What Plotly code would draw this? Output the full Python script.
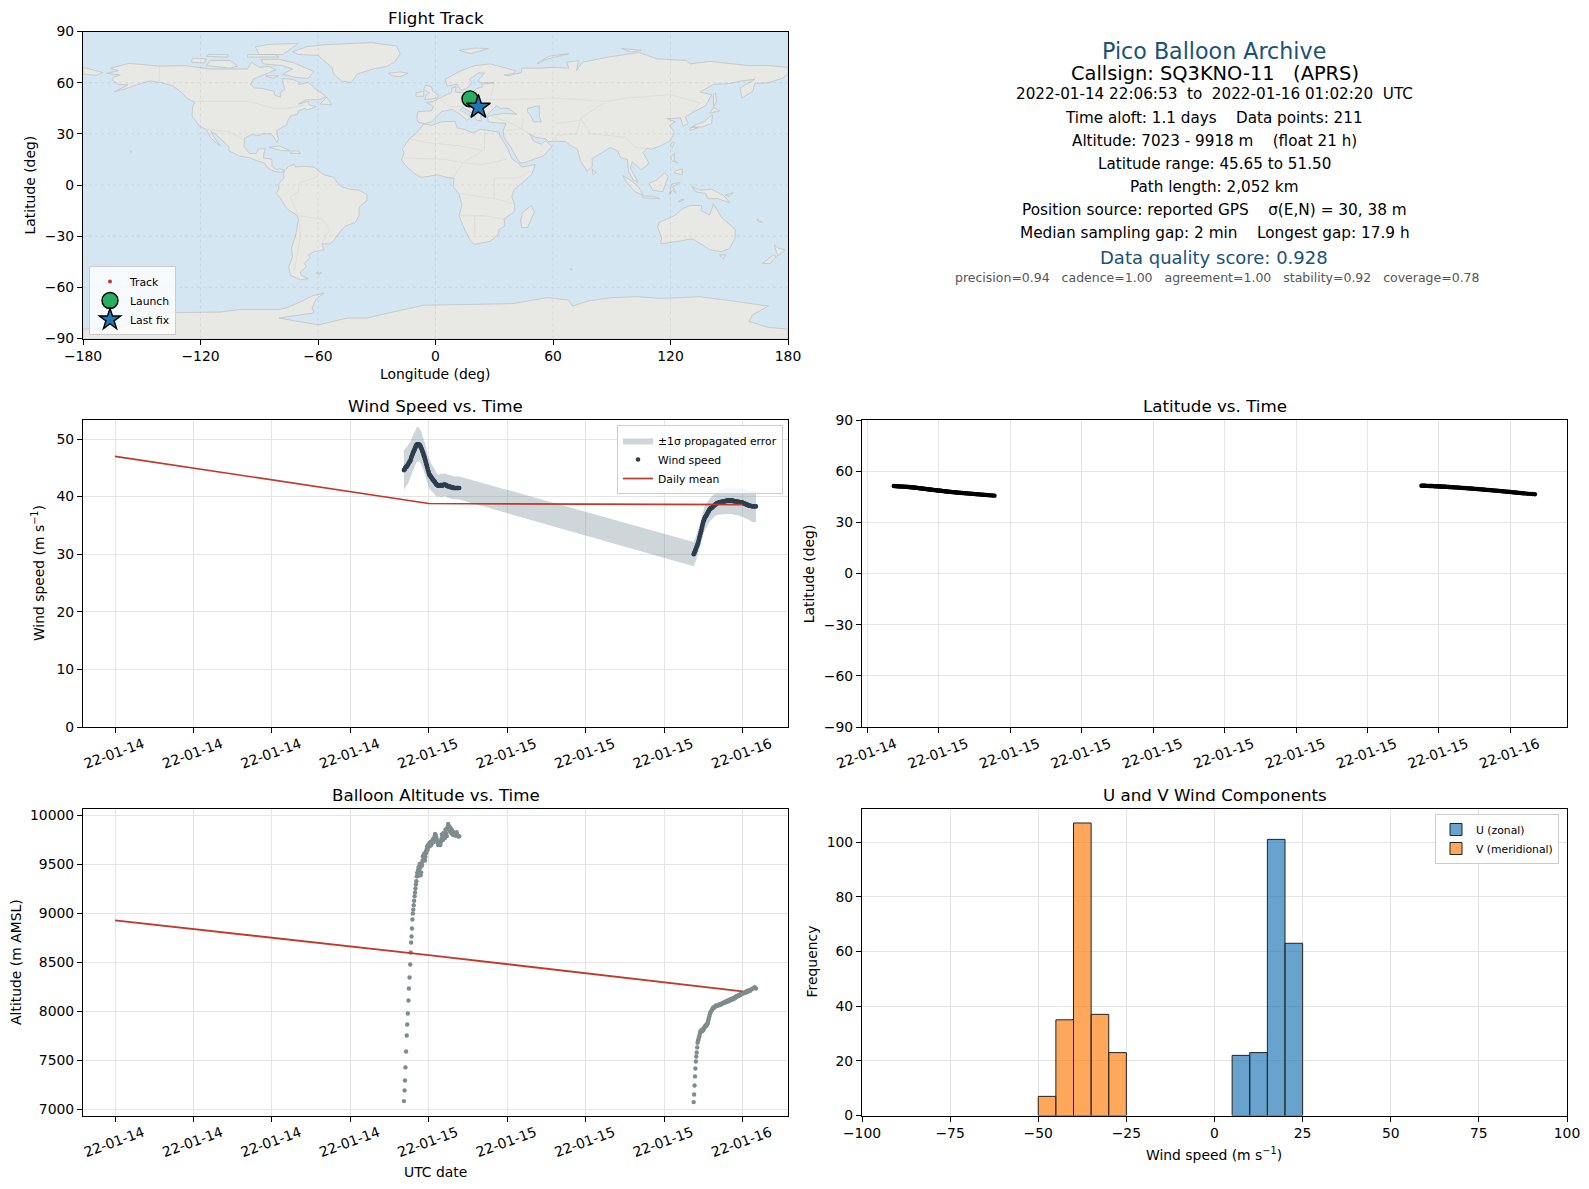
""" Pico balloon flight summary, six panel dashboard """
import pandas as pd
import plotly.graph_objects as go
from plotly.subplots import make_subplots

# minutes relative to 2022-01-15 00:00
seg1_minutes = [
    -114, -111, -109, -107, -104, -101, -99, -96, -93, -91,
    -88, -85, -83, -81, -79, -77, -75, -73, -71, -69,
    -67, -65, -63, -61, -59, -57, -55, -53, -51, -49,
    -47, -45, -43, -41, -39, -37, -35, -33, -31, -29,
    -27, -25, -23, -21, -19, -17, -15, -13, -11, -9,
    -7, -5, -3, -1, 1, 3, 5, 7, 9, 11,
    14, 16, 18, 20, 22, 24, 27, 29, 31, 34,
    36, 38, 41, 43, 45, 48, 50, 53, 55, 58,
    60, 63, 65, 68, 71, 74, 77, 80, 83, 86,
    89, 92, 95, 98, 101, 104, 107, 110, 113, 116,
    120, 124, 128, 132, 136, 140,
]
seg1_alt = [
    7085, 7194, 7296, 7429, 7592, 7755, 7867, 7980, 8112, 8235,
    8347, 8480, 8602, 8704, 8765, 8847, 8939, 9000, 9040, 9085,
    9130, 9177, 9215, 9255, 9296, 9330, 9381, 9415, 9380, 9440,
    9470, 9430, 9483, 9507, 9466, 9391, 9420, 9510, 9490, 9535,
    9585, 9540, 9560, 9610, 9600, 9540, 9580, 9636, 9620, 9660,
    9687, 9650, 9700, 9680, 9704, 9720, 9690, 9711, 9730, 9700,
    9738, 9720, 9745, 9760, 9730, 9770, 9790, 9813, 9800, 9789,
    9760, 9745, 9721, 9700, 9735, 9711, 9730, 9700, 9725, 9760,
    9806, 9780, 9750, 9823, 9800, 9770, 9857, 9820, 9790, 9880,
    9915, 9860, 9890, 9840, 9870, 9820, 9850, 9805, 9830, 9800,
    9810, 9795, 9830, 9800, 9785, 9789,
]
seg1_wind = [
    44.6, 44.7, 44.9, 45.0, 45.2, 45.2, 45.4, 45.5, 45.7, 45.9,
    46.0, 46.2, 46.4, 46.7, 46.9, 47.1, 47.3, 47.5, 47.7, 47.9,
    48.0, 48.2, 48.4, 48.6, 48.8, 48.9, 49.0, 49.1, 49.1, 49.1,
    49.0, 49.1, 49.0, 48.9, 48.8, 48.6, 48.5, 48.3, 48.1, 47.9,
    47.7, 47.5, 47.2, 47.0, 46.8, 46.5, 46.2, 45.9, 45.6, 45.4,
    45.1, 44.8, 44.5, 44.3, 44.0, 43.8, 43.7, 43.6, 43.5, 43.4,
    43.2, 43.1, 43.0, 42.9, 42.8, 42.7, 42.6, 42.5, 42.3, 42.2,
    42.1, 42.0, 42.0, 41.9, 41.9, 41.9, 42.0, 41.9, 42.0, 42.0,
    41.9, 42.0, 42.0, 42.0, 42.1, 42.1, 42.0, 42.0, 41.9, 41.8,
    41.8, 41.8, 41.7, 41.7, 41.7, 41.6, 41.6, 41.6, 41.5, 41.5,
    41.5, 41.5, 41.5, 41.5, 41.5, 41.5,
]
seg1_sigma = [
    3.5, 3.5, 3.4, 3.4, 3.4, 3.4, 3.3, 3.3, 3.3, 3.2,
    3.2, 3.2, 3.2, 3.2, 3.1, 3.1, 3.1, 3.1, 3.0, 3.0,
    3.0, 3.0, 3.0, 3.0, 3.0, 3.0, 3.0, 3.0, 3.0, 3.0,
    3.0, 2.9, 2.9, 2.9, 2.9, 2.9, 2.8, 2.8, 2.8, 2.8,
    2.8, 2.8, 2.7, 2.7, 2.7, 2.7, 2.7, 2.6, 2.6, 2.6,
    2.6, 2.5, 2.5, 2.5, 2.5, 2.4, 2.4, 2.4, 2.4, 2.4,
    2.3, 2.3, 2.3, 2.3, 2.2, 2.2, 2.2, 2.2, 2.1, 2.1,
    2.0, 2.0, 2.0, 2.0, 1.9, 1.9, 1.9, 2.0, 2.0, 2.0,
    2.0, 2.0, 2.0, 2.0, 2.0, 2.0, 2.0, 2.0, 2.0, 2.0,
    2.0, 2.0, 2.0, 2.0, 2.0, 2.0, 2.0, 2.0, 2.0, 2.0,
    2.0, 2.0, 2.0, 2.0, 2.0, 2.0,
]
seg1_lat = [
    51.30, 51.25, 51.22, 51.18, 51.12, 51.08, 51.05, 51.02, 50.98, 50.95,
    50.91, 50.86, 50.82, 50.79, 50.76, 50.72, 50.68, 50.64, 50.60, 50.55,
    50.50, 50.45, 50.40, 50.36, 50.30, 50.25, 50.20, 50.14, 50.08, 50.02,
    49.96, 49.90, 49.84, 49.78, 49.72, 49.66, 49.60, 49.54, 49.48, 49.42,
    49.36, 49.31, 49.25, 49.19, 49.14, 49.08, 49.02, 48.97, 48.91, 48.86,
    48.81, 48.75, 48.70, 48.64, 48.59, 48.53, 48.48, 48.42, 48.37, 48.31,
    48.24, 48.19, 48.13, 48.08, 48.03, 47.97, 47.90, 47.85, 47.80, 47.74,
    47.69, 47.65, 47.60, 47.55, 47.50, 47.44, 47.40, 47.34, 47.30, 47.23,
    47.19, 47.13, 47.09, 47.03, 46.97, 46.91, 46.85, 46.80, 46.74, 46.68,
    46.62, 46.56, 46.50, 46.44, 46.38, 46.32, 46.26, 46.20, 46.14, 46.08,
    46.00, 45.93, 45.85, 45.79, 45.72, 45.65,
]

# minutes relative to 2022-01-16 00:00
seg2_minutes = [
    -224, -222, -220, -218, -216, -214, -212, -210, -208, -206,
    -204, -202, -200, -198, -196, -194, -192, -190, -188, -186,
    -184, -182, -180, -178, -176, -174, -172, -170, -168, -166,
    -164, -162, -160, -158, -156, -154, -152, -150, -148, -146,
    -143, -140, -137, -134, -131, -128, -125, -122, -119, -116,
    -113, -110, -107, -104, -101, -98, -95, -92, -89, -86,
    -83, -80, -77, -74, -71, -68, -65, -62, -59, -56,
    -53, -50, -47, -44, -41, -38, -35, -32, -29, -26,
    -23, -20, -17, -14, -11, -8, -5, -2, 1, 4,
    7, 10, 13, 16, 19, 22, 25, 28, 31, 34,
    38, 44, 50, 56, 62,
]
seg2_alt = [
    7075, 7153, 7245, 7337, 7418, 7490, 7541, 7582, 7633, 7680,
    7700, 7714, 7735, 7748, 7770, 7793, 7790, 7799, 7810, 7805,
    7799, 7810, 7825, 7815, 7833, 7838, 7850, 7845, 7860, 7855,
    7870, 7867, 7880, 7900, 7918, 7935, 7950, 7969, 7985, 7995,
    8005, 8015, 8031, 8040, 8035, 8045, 8050, 8061, 8055, 8060,
    8061, 8065, 8071, 8066, 8075, 8072, 8080, 8085, 8090, 8085,
    8090, 8099, 8094, 8100, 8108, 8100, 8112, 8118, 8110, 8122,
    8125, 8118, 8129, 8135, 8128, 8140, 8135, 8150, 8145, 8155,
    8160, 8155, 8165, 8170, 8165, 8175, 8184, 8178, 8188, 8190,
    8185, 8195, 8200, 8192, 8207, 8200, 8212, 8205, 8218, 8210,
    8222, 8230, 8238, 8248, 8235,
]
seg2_wind = [
    30.0, 30.1, 30.3, 30.5, 30.7, 30.9, 31.1, 31.3, 31.5, 31.7,
    31.9, 32.2, 32.5, 32.8, 33.1, 33.4, 33.7, 34.0, 34.3, 34.7,
    35.0, 35.3, 35.6, 35.8, 36.0, 36.2, 36.4, 36.5, 36.6, 36.7,
    36.9, 37.0, 37.2, 37.3, 37.4, 37.6, 37.7, 37.8, 37.9, 38.0,
    38.0, 38.1, 38.2, 38.3, 38.4, 38.5, 38.6, 38.7, 38.8, 38.9,
    38.9, 38.9, 39.0, 39.0, 39.0, 39.1, 39.1, 39.1, 39.1, 39.2,
    39.2, 39.2, 39.2, 39.3, 39.3, 39.3, 39.3, 39.3, 39.3, 39.3,
    39.3, 39.3, 39.3, 39.3, 39.2, 39.2, 39.2, 39.2, 39.1, 39.1,
    39.1, 39.1, 39.1, 39.0, 39.0, 39.0, 39.0, 39.0, 38.9, 38.9,
    38.8, 38.8, 38.7, 38.7, 38.6, 38.6, 38.5, 38.5, 38.4, 38.4,
    38.4, 38.3, 38.3, 38.3, 38.3,
]
seg2_sigma = [
    2.1, 2.1, 2.1, 2.1, 2.1, 2.1, 2.1, 2.1, 2.1, 2.1,
    2.1, 2.1, 2.1, 2.1, 2.1, 2.1, 2.1, 2.1, 2.1, 2.1,
    2.1, 2.1, 2.1, 2.1, 2.1, 2.1, 2.1, 2.1, 2.1, 2.1,
    2.1, 2.0, 2.0, 2.0, 2.0, 2.0, 2.0, 2.0, 2.0, 2.0,
    2.0, 2.0, 2.0, 2.0, 2.0, 2.0, 2.0, 2.0, 2.0, 2.0,
    2.1, 2.1, 2.1, 2.1, 2.1, 2.1, 2.1, 2.2, 2.2, 2.2,
    2.2, 2.2, 2.2, 2.2, 2.2, 2.3, 2.3, 2.3, 2.3, 2.3,
    2.3, 2.3, 2.3, 2.4, 2.4, 2.3, 2.4, 2.4, 2.4, 2.3,
    2.4, 2.4, 2.3, 2.4, 2.5, 2.5, 2.4, 2.5, 2.5, 2.4,
    2.5, 2.5, 2.4, 2.5, 2.5, 2.4, 2.6, 2.4, 2.6, 2.5,
    2.6, 2.7, 2.6, 2.7, 2.7,
]
seg2_lat = [
    51.50, 51.48, 51.46, 51.45, 51.43, 51.42, 51.40, 51.38, 51.36, 51.35,
    51.33, 51.31, 51.30, 51.28, 51.26, 51.24, 51.22, 51.20, 51.18, 51.15,
    51.13, 51.10, 51.08, 51.05, 51.03, 51.00, 50.98, 50.95, 50.92, 50.90,
    50.87, 50.84, 50.81, 50.78, 50.75, 50.72, 50.69, 50.66, 50.63, 50.60,
    50.55, 50.50, 50.45, 50.40, 50.36, 50.31, 50.26, 50.21, 50.16, 50.11,
    50.06, 50.01, 49.96, 49.90, 49.85, 49.80, 49.74, 49.69, 49.63, 49.58,
    49.52, 49.46, 49.40, 49.35, 49.29, 49.23, 49.17, 49.11, 49.05, 48.99,
    48.93, 48.87, 48.81, 48.75, 48.68, 48.62, 48.56, 48.49, 48.43, 48.36,
    48.30, 48.23, 48.17, 48.10, 48.03, 47.96, 47.90, 47.83, 47.76, 47.69,
    47.62, 47.55, 47.48, 47.41, 47.34, 47.27, 47.20, 47.13, 47.05, 46.98,
    46.88, 46.78, 46.68, 46.58, 46.48,
]

mean_days = ['2022-01-14', '2022-01-15', '2022-01-16']
mean_wind = [47.0, 38.8, 38.6]
mean_alt = [8930, 8575, 8205]

hist_u_centers = [7.5, 12.5, 17.5, 22.5]
hist_u_counts = [22, 23, 101, 63]
hist_v_centers = [-47.5, -42.5, -37.5, -32.5, -27.5]
hist_v_counts = [7, 35, 107, 37, 23]

launch_lon, launch_lat = [17.6], [50.5]
last_lon, last_lat = [21.9], [45.65]
track_lon = [17.6, 18.2, 18.9, 19.5, 20.1, 20.7, 21.3, 21.9]
track_lat = [50.5, 49.8, 49.1, 48.4, 47.8, 47.1, 46.4, 45.65]

land_polygons = [
    # North America
    [(-168, 65.5), (-164, 66.5), (-162, 67), (-166, 68.5), (-156.5, 71.3), (-141, 69.7), (-128, 70), (-115, 68),
     (-108, 68), (-96, 68), (-94, 72), (-90, 69), (-85, 69.5), (-81.5, 67.5), (-87, 65), (-93, 62), (-94.5, 59),
     (-92.5, 57), (-88, 56.5), (-82.5, 55), (-82, 52.5), (-79, 51.5), (-79, 54.5), (-77, 56), (-78, 60), (-78, 62.5),
     (-73, 62), (-70, 60.5), (-69.5, 58.8), (-65, 60.3), (-61, 56), (-57, 53), (-56, 51.5), (-60, 50), (-66, 50),
     (-70, 47.5), (-65, 49), (-64.5, 47), (-61, 46), (-64, 44.5), (-66, 44), (-66.5, 45), (-70, 43.5), (-70.5, 41.5),
     (-74, 40.5), (-75.5, 37.5), (-76, 35), (-78, 34), (-81, 32), (-81, 30), (-80, 26.5), (-81, 25), (-82.5, 28),
     (-84, 30), (-89, 30), (-90, 29), (-94, 29.5), (-97.5, 27.5), (-97.7, 22.5), (-95, 18.5), (-91.5, 18.5),
     (-90.5, 21), (-87, 21.5), (-88, 16), (-83.5, 15), (-83.5, 11), (-81, 9), (-79.5, 9.5), (-77.5, 8.5), (-78, 7.5),
     (-80, 7.5), (-83, 8.3), (-85.5, 10), (-87.5, 13), (-92, 14.5), (-95, 16), (-100, 17), (-105.5, 20),
     (-105.5, 22.5), (-109, 26), (-112.5, 30), (-114.7, 31.5), (-112.5, 27), (-110, 23), (-112, 24.5), (-115, 28),
     (-117, 32.5), (-120.5, 34.5), (-122.5, 37.5), (-124.3, 40.5), (-124, 46), (-123, 48.5), (-127, 51), (-130, 54.5),
     (-134, 58), (-140, 60), (-146, 61), (-152, 59), (-158, 56.5), (-164, 54.7), (-157, 58.7), (-162, 59),
     (-165, 61.5), (-164, 63.5), (-161, 64.5)],
    # Greenland
    [(-73, 78.2), (-66, 81), (-57, 82.2), (-33, 83.5), (-20, 81.5), (-18, 77), (-21, 72), (-25, 69.5), (-32, 68),
     (-40, 65), (-43, 60), (-48, 61), (-52, 65), (-53, 69), (-55, 71), (-60, 76), (-70, 76.5)],
    # Canadian Arctic and Atlantic islands
    [(-80, 73.7), (-72, 71.5), (-67, 69), (-62, 66.5), (-65, 62.5), (-71, 63), (-78, 65), (-73, 68), (-78, 70),
     (-88, 71), (-89, 73.5)],
    [(-117, 70), (-105, 68.5), (-101, 69.7), (-105, 73), (-115, 73)],
    [(-125, 72), (-118, 71.5), (-117, 74), (-124, 74.3)],
    [(-90, 76.5), (-78, 76.5), (-70, 83), (-85, 82.5), (-92, 81)],
    [(-96, 75), (-80, 75), (-82, 76.5), (-96, 76.5)],
    [(-117, 75.5), (-106, 75), (-106, 76.5), (-116, 76.5)],
    [(-59, 47.5), (-53, 47), (-55.5, 51.5)],
    [(-87, 64), (-80, 64), (-83, 62.5)],
    [(-85, 22), (-80, 23), (-74, 20), (-78, 20)],
    [(-74, 18.5), (-69, 18.5), (-70, 20), (-73, 20)],
    [(-156, 20), (-155, 19.5), (-155.5, 19)],
    # Iceland, UK, Ireland, Svalbard, Novaya Zemlya
    [(-24, 65.5), (-18, 66.3), (-14, 65.5), (-18, 63.5), (-22, 64)],
    [(-5.5, 50), (1, 51), (1.5, 52.8), (-1.5, 55), (-2, 57.5), (-5, 58.5), (-6, 56), (-3, 54), (-5, 52)],
    [(-10, 52), (-6, 52), (-6, 55), (-10, 54)],
    [(12, 79), (20, 80.3), (27, 80), (18, 77)],
    [(52, 71), (56, 73.5), (68, 77), (58, 75.5), (52, 71.5)],
    [(95, 80), (105, 79), (100, 78)],
    # South America
    [(-77, 8.5), (-75, 11), (-72, 12), (-71.5, 10.5), (-68, 11), (-62, 10.5), (-60, 8.5), (-57, 6), (-52, 4.5),
     (-50, 1), (-48, -1), (-44, -2.5), (-39, -3), (-35, -5.5), (-35, -9), (-39, -13), (-39, -18), (-41, -22),
     (-46, -24), (-48.5, -27), (-52, -32.5), (-54, -34.5), (-58, -34.5), (-57, -38), (-62, -39), (-65, -41),
     (-64, -42.5), (-67, -46), (-66, -48), (-69, -51), (-68.5, -53), (-65, -55), (-69, -55.5), (-74, -53), (-75, -48),
     (-73, -42), (-73.5, -37), (-71.5, -30), (-70, -20), (-71, -17.5), (-76, -14), (-79, -8), (-81.3, -5), (-80, -2.5),
     (-80, 1), (-77.5, 4), (-77.5, 7)],
    [(-61, -51.5), (-58, -51.5), (-59.5, -52.3)],
    # Africa and Madagascar
    [(-6, 35.8), (-2, 35), (3, 37), (10, 37.3), (11, 33.5), (15, 32.5), (19, 30.5), (23, 32.7), (32.5, 31), (33, 28.5),
     (35.5, 24), (37, 21), (39, 15.5), (43, 12), (44, 10.5), (51, 12), (49, 6), (45, 2), (40, -3), (39, -7),
     (40.5, -12), (40, -16), (35, -20), (35.5, -24), (32.5, -26), (32, -29), (28, -33), (20, -34.8), (18, -33),
     (15, -26.5), (12, -18), (13.5, -12), (12, -5), (9, -1), (9.5, 4), (5.5, 4.5), (1, 6), (-4, 5), (-7.5, 4.5),
     (-11, 7), (-15, 11), (-17.3, 14.7), (-16, 19), (-17, 21), (-13, 27.5), (-10, 30)],
    [(49, -12), (50.5, -16), (47, -25), (44, -25), (43.5, -21), (44.5, -16)],
    # Eurasia
    [(-9, 37), (-9.5, 39), (-9, 43), (-2, 43.5), (-1, 46), (-4.5, 48.4), (-1.5, 48.7), (2, 51), (4, 52), (8, 54),
     (8.5, 57), (10.5, 57.5), (10, 54.5), (14, 54), (19, 54.5), (21, 56.5), (24, 57.5), (23.5, 59), (30, 60), (23, 60),
     (21.5, 61), (25, 65.5), (22, 65.8), (17.5, 62), (18.5, 60), (16, 56.5), (13, 55.5), (11, 59), (6, 58), (5, 62),
     (13, 67), (20, 70), (28, 71), (41, 67), (40, 65.5), (35, 64.5), (37, 64), (44, 66), (44, 68.5), (54, 68.5),
     (60, 69), (68, 68.5), (67, 72), (73, 73), (72, 67), (75, 72), (81, 73.5), (88, 75), (104, 77.7), (113, 74),
     (128, 73), (130, 71), (140, 72.5), (160, 70), (170, 70), (180, 69), (180, 65), (177, 62.5), (170, 60),
     (163, 59.5), (162, 55), (156.5, 51), (155.5, 57), (163, 62), (156, 61), (150, 59.5), (142, 59), (135, 54.5),
     (141, 53), (138, 46.5), (132, 43), (127.5, 40), (129, 36), (126.5, 34.5), (125, 39.5), (121.5, 39), (118, 39),
     (122.5, 37), (119.5, 35), (122, 31), (120, 26), (114, 22.5), (110, 21), (108, 21.5), (106, 19), (109, 13),
     (107, 10.5), (105, 9), (103, 11), (100.5, 13.5), (99.5, 10), (103.5, 1.5), (101, 3), (98.5, 8), (98, 15),
     (94.5, 16), (93, 20), (89, 22), (86.5, 20), (80, 15.5), (80, 11), (77.5, 8), (74, 14), (72.5, 21), (68.5, 23.5),
     (66.5, 25.5), (57.5, 25.5), (56.5, 27), (51, 28), (48, 30), (50, 26), (51.5, 25), (54, 24), (56.3, 26),
     (59.5, 22.5), (55, 17), (45, 13), (43, 13), (39, 21), (35, 28), (34.5, 31.5), (36, 36), (31, 36.5), (27, 37),
     (26.5, 40), (29, 41), (35, 42), (41.5, 41.5), (37, 45), (35, 45), (33, 45), (31, 46.5), (28, 43), (26, 40.7),
     (23, 40.5), (23.5, 37.5), (21, 38), (19.5, 41.5), (14, 45.5), (12.5, 44), (18.5, 40), (16, 38), (12, 42),
     (8.5, 44.3), (3, 43), (0, 39.5), (-2, 37), (-5.5, 36)],
    [(-180, 69), (-175, 67.5), (-170, 66), (-173, 64.3), (-180, 65)],
    # Asian and Pacific islands
    [(131, 34), (136, 34), (141, 36), (141.5, 41), (140, 40), (137, 37), (133, 35.5)],
    [(130, 32), (134, 33.5), (132, 34), (130, 33.5)],
    [(140, 42), (145, 43.5), (142, 45.5)],
    [(142, 46), (143.5, 49), (143, 54), (142, 53)],
    [(120, 23), (121, 22), (122, 25), (121, 25.2)],
    [(120, 16), (122, 18.5), (122, 14), (124, 13), (121, 14)],
    [(122, 7), (126, 6), (126, 9.5), (123, 8.5)],
    [(109, 1), (113, 3), (117, 7), (119, 5), (117.5, 1), (116, -4), (111, -3)],
    [(95.5, 5.5), (100, 2.5), (104, -1.5), (106, -6), (102, -4), (98, 1)],
    [(105.5, -6.5), (111, -6.5), (114.5, -8), (106, -7.5)],
    [(119.5, -5.5), (120.5, 0.5), (125, 1.5), (121, -1), (123, -5), (121, -3)],
    [(131, -1), (135, -3), (141, -2.5), (147, -6), (150.5, -10.5), (144, -8), (139, -8), (138, -5), (133, -4)],
    [(124, -10), (127, -8.5), (125, -8.7)],
    [(80, 9.5), (82, 7), (80.5, 6)],
    [(148, -6), (152, -4.5), (150, -6.5)],
    [(164, -20), (167, -22), (165, -21.5)],
    [(69, -49), (70, -49.5), (69, -49.8)],
    # Australia and New Zealand
    [(114, -22), (122, -18), (126, -14), (130, -12), (136, -12), (135.5, -15), (140, -17.5), (142, -11), (146, -19),
     (153, -26), (153, -31), (150, -37.5), (146, -39), (140, -38), (136, -35), (131, -31.5), (124, -33), (115, -34.5),
     (115.5, -31), (113.5, -25)],
    [(145, -41), (148, -41), (147, -43.5)],
    [(173, -35), (175, -37), (178.5, -38), (175, -41.5), (174, -39)],
    [(172.5, -41), (174, -42), (171, -46), (167, -46)],
    # Antarctica
    [(-180, -84.5), (-165, -84), (-150, -80), (-140, -75), (-110, -74.5), (-100, -73), (-80, -73), (-76, -72),
     (-68, -68), (-63, -65), (-57, -63.3), (-61, -67), (-63, -72), (-62, -75), (-80, -78), (-60, -82), (-45, -78),
     (-35, -78), (-20, -74), (-6, -70.5), (20, -70), (40, -69.5), (57, -66), (68, -67.5), (70, -71), (78, -68),
     (90, -66), (103, -65.5), (115, -66.5), (135, -65.5), (155, -68.5), (170, -71), (162, -76), (160, -80), (170, -83.5),
     (180, -84.5), (180, -90), (-180, -90)],
]
caspian_sea = [(47, 45), (53, 46.5), (53, 40), (54, 37), (50, 37), (49, 40), (47, 43)]
border_lines = [
    [(-123, 49), (-95, 49), (-83, 45), (-75, 45), (-67, 47)],
    [(-117, 32.5), (-106, 31.5), (-97.5, 26)],
    [(-141, 60), (-141, 69.7)],
    [(-70, -18), (-58, -20), (-54, -26), (-58, -34)],
    [(-70, -18), (-74, -7), (-70, -4), (-70, 1), (-60, 5)],
    [(-70, -18), (-69, -30), (-72, -50)],
    [(-13, 27), (-5, 25), (12, 23), (25, 20), (25, 32)],
    [(-16, 16), (5, 15), (14, 13), (24, 12), (36, 15)],
    [(9, 4), (14, 13), (24, 20)],
    [(12, -5), (30, -8), (40, -11)],
    [(12, -18), (25, -18), (35, -20)],
    [(30, -8), (30, 4), (42, 4), (48, 8)],
    [(20, -29), (20, -18), (25, -18)],
    [(28, 50), (40, 50), (60, 51), (87, 49), (98, 51), (120, 53), (135, 48), (131, 43)],
    [(87, 49), (74, 39), (79, 30), (97, 28), (102, 22), (108, 21.5)],
    [(61, 36), (74, 38), (72, 30), (61, 29), (62, 25)],
    [(45, 39), (44, 33), (48, 30)],
    [(36, 32), (44, 33), (39, 36), (27, 41)],
    [(14, 54), (14, 46), (7, 46), (2, 51)],
    [(24, 50), (28, 50), (30, 60)],
]

map_lon_ticks = [-180, -120, -60, 0, 60, 120, 180]
map_lat_ticks = [-90, -60, -30, 0, 30, 60, 90]

# text, centre x, centre y, size, colour
summary_lines = [
    ('Pico Balloon Archive', 1214, 50.7, 22.2, '#1a5276'),
    ('Callsign: SQ3KNO-11   (APRS)', 1214.5, 73.5, 19.4, 'black'),
    ('2022-01-14 22:06:53  to  2022-01-16 01:02:20  UTC', 1214, 94.5, 15.2, 'black'),
    ('Time aloft: 1.1 days    Data points: 211', 1214, 117.6, 15.2, 'black'),
    ('Altitude: 7023 - 9918 m    (float 21 h)', 1214, 141, 15.2, 'black'),
    ('Latitude range: 45.65 to 51.50', 1214, 164, 15.2, 'black'),
    ('Path length: 2,052 km', 1214, 187, 15.2, 'black'),
    ('Position source: reported GPS    σ(E,N) = 30, 38 m', 1214.5, 210, 15.3, 'black'),
    ('Median sampling gap: 2 min    Longest gap: 17.9 h', 1214.5, 233.5, 15.3, 'black'),
    ('Data quality score: 0.928', 1214, 257.4, 18, '#1a5276'),
    ('precision=0.94   cadence=1.00   agreement=1.00   stability=0.92   coverage=0.78', 1217, 277.7, 12.5, '#555555'),
]

# text, centre x, centre y, rotation
axis_titles = [
    ('Longitude (deg)', 435.5, 374, 0),
    ('Latitude (deg)', 30.4, 185, -90),
    ('Wind speed (m s<sup>−1</sup>)', 37.5, 573.6, -90),
    ('Latitude (deg)', 808.7, 573.6, -90),
    ('Altitude (m AMSL)', 16.2, 961.7, -90),
    ('Frequency', 811.7, 961.7, -90),
    ('UTC date', 435.8, 1171.5, 0),
    ('Wind speed (m s<sup>−1</sup>)', 1214, 1154.3, 0),
]

PAGE_MARGIN = 8  # browser default body margin
FIG_W = 1589 - 2 * PAGE_MARGIN
FIG_H = 1189 - 2 * PAGE_MARGIN
FONT = 'DejaVu Sans'
TICK_SIZE = 13.9
TITLE_SIZE = 16.7


def fx(px):
    return (px - PAGE_MARGIN) / FIG_W


def fy(py):
    return 1 - (py - PAGE_MARGIN) / FIG_H


def polygon_xy(points):
    xs = [p[0] for p in points] + [points[0][0], None]
    ys = [p[1] for p in points] + [points[0][1], None]
    return xs, ys


def stamps(minutes, day):
    return pd.Timestamp(day) + pd.to_timedelta(minutes, unit='min')


times1 = stamps(seg1_minutes, '2022-01-15')
times2 = stamps(seg2_minutes, '2022-01-16')
times_all = list(times1) + list(times2)
wind_all = seg1_wind + seg2_wind
sigma_all = seg1_sigma + seg2_sigma
alt_all = seg1_alt + seg2_alt
lat_all = seg1_lat + seg2_lat
wind_upper = [w + s for w, s in zip(wind_all, sigma_all)]
wind_lower = [w - s for w, s in zip(wind_all, sigma_all)]

fig = make_subplots(rows=3, cols=2, specs=[[{}, None], [{}, {}], [{}, {}]])
MAP, WIND, LAT, ALT, HIST = (1, 1), (2, 1), (2, 2), (3, 1), (3, 2)

# map panel
land_x, land_y = [], []
for poly in land_polygons:
    xs, ys = polygon_xy(poly)
    land_x += xs
    land_y += ys
fig.add_trace(go.Scatter(x=land_x, y=land_y, mode='lines', fill='toself', fillcolor='#e8e8e4',
                         line=dict(color='#bfc3c4', width=0.8), showlegend=False, hoverinfo='skip'),
              row=MAP[0], col=MAP[1])
sea_x, sea_y = polygon_xy(caspian_sea)
fig.add_trace(go.Scatter(x=sea_x, y=sea_y, mode='lines', fill='toself', fillcolor='#d4e6f1',
                         line=dict(color='#bfc3c4', width=0.8), showlegend=False, hoverinfo='skip'),
              row=MAP[0], col=MAP[1])
border_x, border_y = [], []
for line in border_lines:
    border_x += [p[0] for p in line] + [None]
    border_y += [p[1] for p in line] + [None]
fig.add_trace(go.Scatter(x=border_x, y=border_y, mode='lines', line=dict(color='#d9d9d6', width=0.7),
                         showlegend=False, hoverinfo='skip'), row=MAP[0], col=MAP[1])
fig.add_trace(go.Scatter(x=track_lon, y=track_lat, mode='markers', name='Track', legend='legend',
                         marker=dict(color='#c0392b', size=4)), row=MAP[0], col=MAP[1])
fig.add_trace(go.Scatter(x=launch_lon, y=launch_lat, mode='markers', name='Launch', legend='legend',
                         marker=dict(color='#27ae60', size=16, line=dict(color='black', width=1.4))),
              row=MAP[0], col=MAP[1])
fig.add_trace(go.Scatter(x=last_lon, y=last_lat, mode='markers', name='Last fix', legend='legend',
                         marker=dict(color='#1f77b4', size=18, symbol='star', line=dict(color='black', width=1.4))),
              row=MAP[0], col=MAP[1])

# wind panel
band_x = times_all + times_all[::-1]
band_y = wind_upper + wind_lower[::-1]
fig.add_trace(go.Scatter(x=band_x, y=band_y, mode='lines', fill='toself', fillcolor='rgba(110,130,140,0.33)',
                         line=dict(width=0), name='±1σ propagated error', legend='legend2'),
              row=WIND[0], col=WIND[1])
fig.add_trace(go.Scatter(x=times_all, y=wind_all, mode='markers', name='Wind speed', legend='legend2',
                         marker=dict(color='#2c3e50', size=4.6)), row=WIND[0], col=WIND[1])
fig.add_trace(go.Scatter(x=mean_days, y=mean_wind, mode='lines', name='Daily mean', legend='legend2',
                         line=dict(color='#c0392b', width=1.7)), row=WIND[0], col=WIND[1])

# latitude panel
fig.add_trace(go.Scatter(x=times_all, y=lat_all, mode='markers', showlegend=False,
                         marker=dict(color='#000000', size=4.4)), row=LAT[0], col=LAT[1])

# altitude panel
fig.add_trace(go.Scatter(x=times_all, y=alt_all, mode='markers', showlegend=False,
                         marker=dict(color='#7f8c8d', size=4.4)), row=ALT[0], col=ALT[1])
fig.add_trace(go.Scatter(x=mean_days, y=mean_alt, mode='lines', showlegend=False,
                         line=dict(color='#c0392b', width=1.9)), row=ALT[0], col=ALT[1])

# histogram panel
fig.add_trace(go.Bar(x=hist_u_centers, y=hist_u_counts, width=5, name='U (zonal)', legend='legend3',
                     marker=dict(color='rgba(31,119,180,0.68)', line=dict(color='#222222', width=1))),
              row=HIST[0], col=HIST[1])
fig.add_trace(go.Bar(x=hist_v_centers, y=hist_v_counts, width=5, name='V (meridional)', legend='legend3',
                     marker=dict(color='rgba(255,127,14,0.68)', line=dict(color='#222222', width=1))),
              row=HIST[0], col=HIST[1])

axis_style = dict(showline=True, mirror=True, linecolor='black', linewidth=1.1, ticks='outside', ticklen=5,
                  tickwidth=1.1, tickcolor='black', showgrid=True, gridcolor='#e4e4e4', gridwidth=1,
                  zeroline=False, automargin=False, tickfont=dict(size=TICK_SIZE, color='black'))
fig.update_xaxes(**axis_style)
fig.update_yaxes(**axis_style)

left_col = [fx(83), fx(788)]
right_col = [fx(862), fx(1567)]
rows_y = {1: [fy(338.5), fy(31.5)], 2: [fy(727), fy(420)], 3: [fy(1115.5), fy(808.5)]}

fig.update_xaxes(domain=left_col, range=[-180, 180], tickvals=map_lon_ticks, showgrid=False, row=1, col=1)
fig.update_yaxes(domain=rows_y[1], range=[-90, 90], tickvals=map_lat_ticks, showgrid=False, row=1, col=1)

date_range_wide = ['2022-01-13 21:33', '2022-01-16 03:29']
date_range_lat = ['2022-01-14 20:46', '2022-01-16 02:23']
date_axis = dict(tickformat='%y-%m-%d', tickangle=-20, ticklabelshift=28, ticklabelstandoff=-2)
fig.update_xaxes(domain=left_col, range=date_range_wide, tick0='2022-01-14', dtick=21600000, row=2, col=1, **date_axis)
fig.update_yaxes(domain=rows_y[2], range=[0, 53.3], dtick=10, row=2, col=1)
fig.update_xaxes(domain=right_col, range=date_range_lat, tick0='2022-01-14', dtick=10800000, row=2, col=2, **date_axis)
fig.update_yaxes(domain=rows_y[2], range=[-90, 90], tickvals=map_lat_ticks, row=2, col=2)
fig.update_xaxes(domain=left_col, range=date_range_wide, tick0='2022-01-14', dtick=21600000, row=3, col=1, **date_axis)
fig.update_yaxes(domain=rows_y[3], range=[6938, 10072], dtick=500, tickformat='d', row=3, col=1)
fig.update_xaxes(domain=right_col, range=[-100, 100], dtick=25, row=3, col=2)
fig.update_yaxes(domain=rows_y[3], range=[0, 112.3], dtick=20, row=3, col=2)

# dotted graticule sits over the land
shapes = []
for lon in map_lon_ticks[1:-1]:
    shapes.append(dict(type='line', xref='x', yref='y', x0=lon, x1=lon, y0=-90, y1=90, layer='above',
                       line=dict(color='rgba(120,120,120,0.2)', width=0.7, dash='dot')))
for lat in map_lat_ticks[1:-1]:
    shapes.append(dict(type='line', xref='x', yref='y', x0=-180, x1=180, y0=lat, y1=lat, layer='above',
                       line=dict(color='rgba(120,120,120,0.2)', width=0.7, dash='dot')))
# ocean goes below everything in the map axes
shapes.append(dict(type='rect', xref='x', yref='y', x0=-180, x1=180, y0=-90, y1=90, layer='below',
                   fillcolor='#d4e6f1', line=dict(width=0)))

annotations = []
panel_titles = [('Flight Track', left_col, 18), ('Wind Speed vs. Time', left_col, 405.5),
                ('Latitude vs. Time', right_col, 405.5), ('Balloon Altitude vs. Time', left_col, 794.5),
                ('U and V Wind Components', right_col, 794.5)]
for text, col, py in panel_titles:
    annotations.append(dict(text=text, x=sum(col) / 2, y=fy(py), xref='paper', yref='paper', showarrow=False,
                            xanchor='center', yanchor='middle', font=dict(size=TITLE_SIZE, color='black')))
for text, px, py, size, color in summary_lines:
    annotations.append(dict(text=text, x=fx(px), y=fy(py), xref='paper', yref='paper', showarrow=False,
                            xanchor='center', yanchor='middle', font=dict(size=size, color=color)))
for text, px, py, angle in axis_titles:
    annotations.append(dict(text=text, x=fx(px), y=fy(py), xref='paper', yref='paper', showarrow=False,
                            xanchor='center', yanchor='middle', textangle=angle,
                            font=dict(size=TICK_SIZE, color='black')))

legend_style = dict(bgcolor='rgba(255,255,255,0.8)', bordercolor='#cccccc', borderwidth=1, font=dict(size=10.8),
                    tracegroupgap=0, itemclick=False, itemdoubleclick=False, itemwidth=30)

fig.update_layout(
    width=FIG_W,
    height=FIG_H,
    margin=dict(l=0, r=0, t=0, b=0),
    autosize=False,
    paper_bgcolor='white',
    plot_bgcolor='white',
    font=dict(family=FONT, color='black'),
    barmode='overlay',
    shapes=shapes,
    annotations=annotations,
    legend=dict(x=fx(89), y=fy(335), xanchor='left', yanchor='bottom', **legend_style),
    legend2=dict(x=fx(783), y=fy(425), xanchor='right', yanchor='top', **legend_style),
    legend3=dict(x=fx(1559), y=fy(814), xanchor='right', yanchor='top', **legend_style),
)

fig.write_html("out.html")
